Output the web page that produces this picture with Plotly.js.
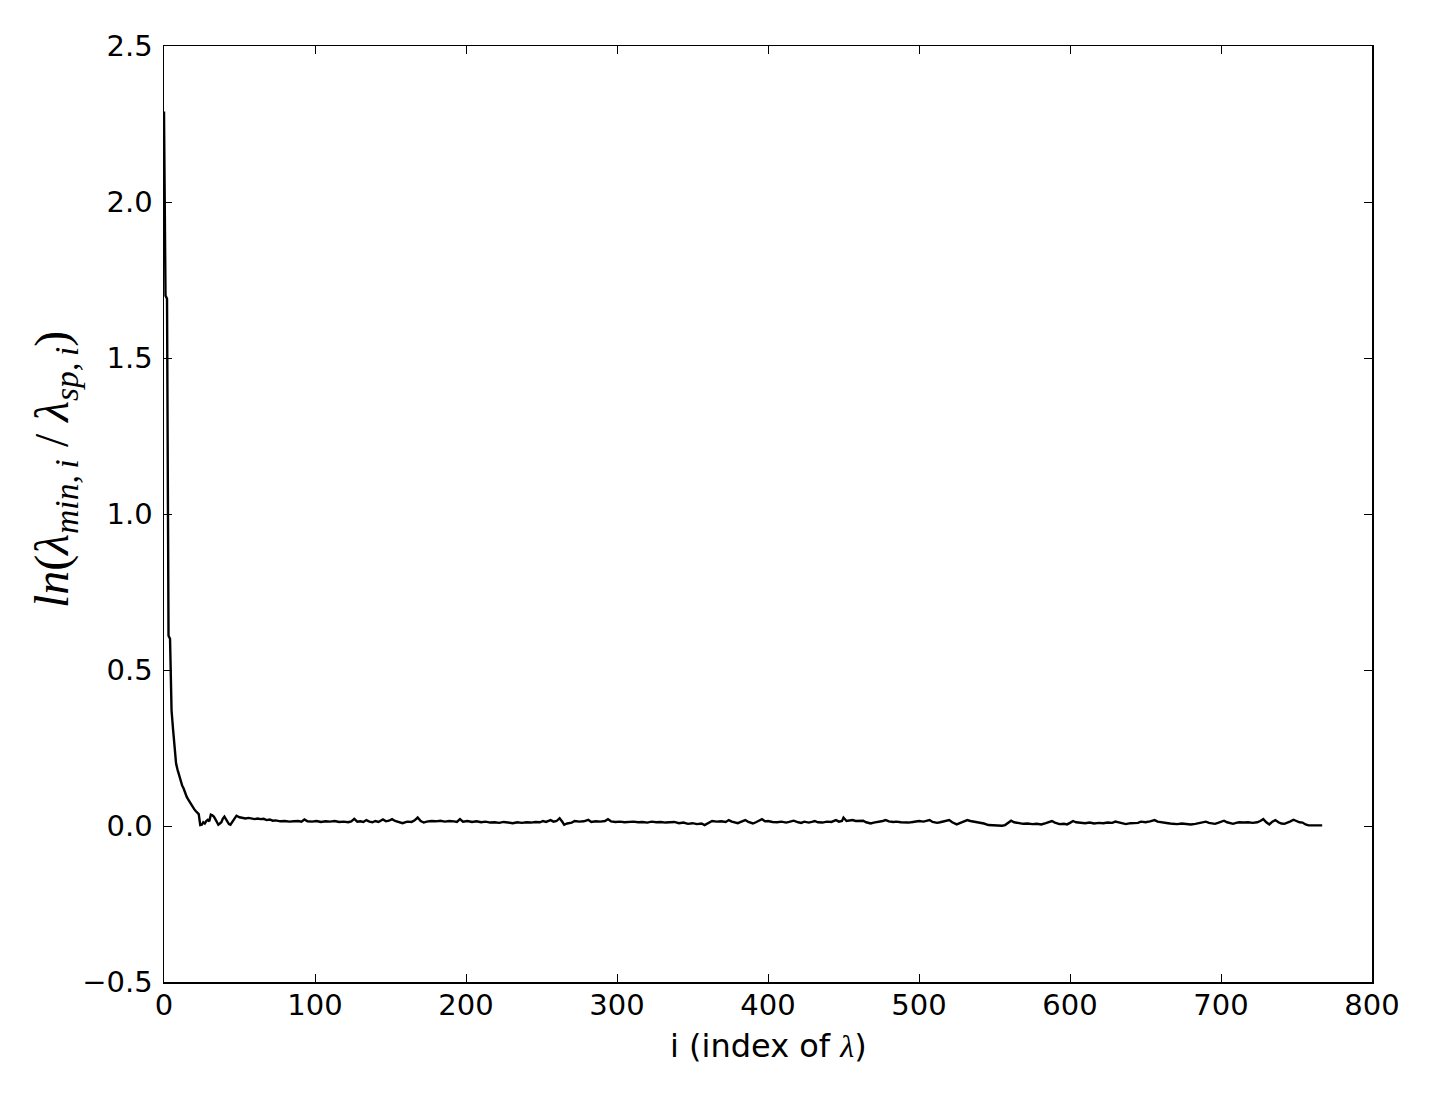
<!DOCTYPE html>
<html>
<head>
<meta charset="utf-8">
<script src="https://cdn.plot.ly/plotly-3.0.1.min.js"></script>
<style>
  body { margin: 0; background: #fff; }
  #ratioPlot { width: 1456px; height: 1102px; }
</style>
</head>
<body>
<div id="ratioPlot"></div>
<script>
// index of lambda and ln(lambda_min / lambda_sp)
const idx = [
  0, 1, 2, 3, 4, 5, 6, 7, 8, 9, 10, 11, 12, 13, 14, 15, 16, 17, 18, 19, 20, 21, 22, 23, 24,
  25, 26, 27, 28, 29, 30, 31, 32, 33, 34, 35, 36, 37, 38, 39, 40, 41, 42, 43, 44, 45, 46, 47, 48,
  50, 52, 54, 56, 58, 60, 62, 64, 66, 68, 70, 72, 74, 77, 80, 83, 86, 89, 91, 93, 95, 98,
  101, 104, 107, 110, 113, 116, 119, 122, 124, 126, 128, 130, 132, 134, 136, 138, 140, 142,
  145, 147, 149, 151, 153, 155, 158, 161, 164, 166, 168, 170, 172, 174, 177, 180, 183, 186,
  189, 192, 194, 196, 198, 201, 204, 207, 210, 213, 216, 219, 222, 225, 228, 231, 234, 237,
  240, 243, 246, 249, 251, 253, 256, 258, 260, 262, 264, 265, 267, 270, 272, 275, 278, 281,
  283, 286, 289, 292, 294, 296, 299, 302, 305, 308, 311, 314, 317, 320, 323, 326, 329, 332,
  335, 338, 341, 344, 347, 350, 353, 356, 358, 361, 363, 366, 369, 372, 374, 376, 378, 380,
  382, 385, 387, 390, 392, 394, 396, 398, 400, 403, 406, 409, 412, 414, 417, 420, 422, 424,
  427, 429, 431, 433, 436, 439, 442, 445, 447, 449, 450, 452, 454, 456, 458, 461, 463, 465,
  468, 470, 473, 476, 478, 480, 483, 485, 488, 491, 493, 496, 498, 500, 503, 505, 507, 509,
  512, 514, 517, 520, 522, 525, 527, 530, 532, 534, 537, 540, 543, 546, 549, 552, 555, 557,
  559, 561, 563, 566, 569, 572, 575, 578, 581, 584, 586, 588, 590, 593, 596, 598, 600, 602,
  604, 607, 610, 613, 616, 619, 622, 625, 628, 630, 633, 635, 637, 640, 643, 645, 647, 650,
  653, 656, 658, 660, 662, 665, 668, 671, 674, 677, 680, 683, 685, 688, 690, 692, 694, 696,
  698, 700, 702, 704, 706, 708, 710, 712, 715, 718, 721, 724, 726, 728, 730, 732, 734, 736,
  738, 740, 742, 744, 746, 748, 750, 752, 754, 756, 758, 762, 767
];
const lnRatio = [
  2.29, 1.70, 1.69, 0.61, 0.60, 0.37, 0.31, 0.26, 0.20, 0.18, 0.16, 0.145, 0.13, 0.12, 0.105, 0.094, 0.085, 0.076, 0.068, 0.06, 0.054, 0.048, 0.042, 0.038, 0.003,
  0.004, 0.012, 0.008, 0.016, 0.02, 0.015, 0.036, 0.034, 0.03, 0.022, 0.01, 0.004, 0.008, 0.012, 0.024, 0.03, 0.022, 0.014, 0.006, 0.004, 0.012, 0.018, 0.028, 0.033,
  0.028, 0.027, 0.024, 0.026, 0.024, 0.022, 0.024, 0.022, 0.023, 0.019, 0.021, 0.017, 0.018, 0.015, 0.016, 0.014, 0.015, 0.016, 0.014, 0.021, 0.015, 0.014,
  0.016, 0.013, 0.015, 0.014, 0.016, 0.013, 0.014, 0.012, 0.015, 0.023, 0.014, 0.015, 0.013, 0.019, 0.014, 0.012, 0.016, 0.013,
  0.021, 0.015, 0.017, 0.022, 0.016, 0.013, 0.009, 0.014, 0.013, 0.018, 0.027, 0.016, 0.011, 0.014, 0.016, 0.015, 0.017, 0.014,
  0.016, 0.015, 0.013, 0.022, 0.014, 0.016, 0.013, 0.015, 0.012, 0.014, 0.011, 0.012, 0.010, 0.013, 0.011, 0.009, 0.012, 0.010,
  0.012, 0.011, 0.013, 0.012, 0.016, 0.013, 0.019, 0.014, 0.016, 0.025, 0.012, 0.004, 0.008, 0.011, 0.016, 0.014, 0.015, 0.020,
  0.013, 0.015, 0.014, 0.016, 0.022, 0.015, 0.013, 0.014, 0.012, 0.013, 0.014, 0.012, 0.013, 0.011, 0.014, 0.012, 0.013, 0.011,
  0.012, 0.013, 0.009, 0.011, 0.007, 0.009, 0.006, 0.008, 0.003, 0.012, 0.016, 0.014, 0.015, 0.013, 0.019, 0.014, 0.012, 0.009,
  0.013, 0.019, 0.013, 0.008, 0.012, 0.017, 0.022, 0.015, 0.016, 0.013, 0.012, 0.014, 0.011, 0.013, 0.017, 0.012, 0.010, 0.014,
  0.011, 0.013, 0.016, 0.012, 0.011, 0.014, 0.013, 0.019, 0.014, 0.016, 0.027, 0.016, 0.017, 0.019, 0.016, 0.018, 0.017, 0.012,
  0.008, 0.011, 0.013, 0.016, 0.019, 0.015, 0.013, 0.014, 0.012, 0.010, 0.011, 0.013, 0.015, 0.016, 0.014, 0.017, 0.019, 0.013,
  0.010, 0.012, 0.015, 0.019, 0.012, 0.005, 0.009, 0.014, 0.019, 0.016, 0.014, 0.012, 0.008, 0.003, 0.002, 0.002, 0.001, 0.003,
  0.010, 0.017, 0.012, 0.009, 0.007, 0.008, 0.006, 0.007, 0.005, 0.009, 0.012, 0.016, 0.011, 0.006, 0.007, 0.005, 0.010, 0.016,
  0.012, 0.010, 0.009, 0.011, 0.008, 0.010, 0.009, 0.011, 0.010, 0.014, 0.010, 0.008, 0.006, 0.009, 0.011, 0.010, 0.014, 0.012,
  0.015, 0.019, 0.014, 0.012, 0.011, 0.009, 0.007, 0.006, 0.008, 0.006, 0.005, 0.007, 0.009, 0.011, 0.014, 0.010, 0.008, 0.007,
  0.010, 0.013, 0.017, 0.012, 0.009, 0.007, 0.010, 0.012, 0.011, 0.012, 0.010, 0.012, 0.016, 0.022, 0.012, 0.005, 0.014, 0.019,
  0.012, 0.008, 0.007, 0.010, 0.015, 0.020, 0.015, 0.012, 0.011, 0.005, 0.002, 0.002, 0.002
];

const xTicks = [0, 100, 200, 300, 400, 500, 600, 700, 800];
const yTicks = [-0.5, 0.0, 0.5, 1.0, 1.5, 2.0, 2.5];

function plotRatio() {
  const trace = {
    x: idx,
    y: lnRatio,
    type: "scatter",
    mode: "lines",
    line: { color: "#000", width: 2.4 },
    hoverinfo: "skip",
  };

  const axisStyle = {
    showgrid: false,
    zeroline: false,
    showline: true,
    mirror: "ticks",
    linecolor: "#000",
    linewidth: 1.5,
    ticks: "inside",
    ticklen: 8,
    tickwidth: 1,
    tickcolor: "#000",
    tickfont: { family: "DejaVu Sans", size: 29, color: "#000" },
  };

  const layout = {
    width: 1456,
    height: 1102,
    paper_bgcolor: "#fff",
    plot_bgcolor: "#fff",
    showlegend: false,
    margin: { l: 164, r: 84, t: 46, b: 120 },
    xaxis: Object.assign({}, axisStyle, {
      range: [0, 800],
      tickvals: xTicks,
      ticktext: xTicks.map((v) => String(v)),
      ticklabelstandoff: -3,
    }),
    yaxis: Object.assign({}, axisStyle, {
      range: [-0.5, 2.5],
      tickvals: yTicks,
      tickformat: ".1f",
      ticklabelstandoff: 4,
    }),
    // axis titles as annotations so they sit where the reference has them
    annotations: [
      {
        xref: "paper",
        yref: "paper",
        x: 0.5,
        y: -0.0684,
        xanchor: "center",
        yanchor: "middle",
        showarrow: false,
        text: 'i (index of <span style="font-family:\'Liberation Serif\';font-style:italic">λ</span>)',
        font: { family: "DejaVu Sans", size: 32, color: "#000" },
      },
      {
        xref: "paper",
        yref: "paper",
        x: -0.0902,
        y: 0.547,
        xanchor: "center",
        yanchor: "middle",
        textangle: -90,
        showarrow: false,
        text: "<i>ln</i>(<i>λ</i><sub><i>min,&#8201;i</i></sub> / <i>λ</i><sub><i>sp,&#8201;i</i></sub>)",
        font: { family: "Liberation Serif", size: 48, color: "#000" },
      },
    ],
  };

  Plotly.newPlot("ratioPlot", [trace], layout, { displayModeBar: false, staticPlot: true });
}

plotRatio();
</script>
</body>
</html>
